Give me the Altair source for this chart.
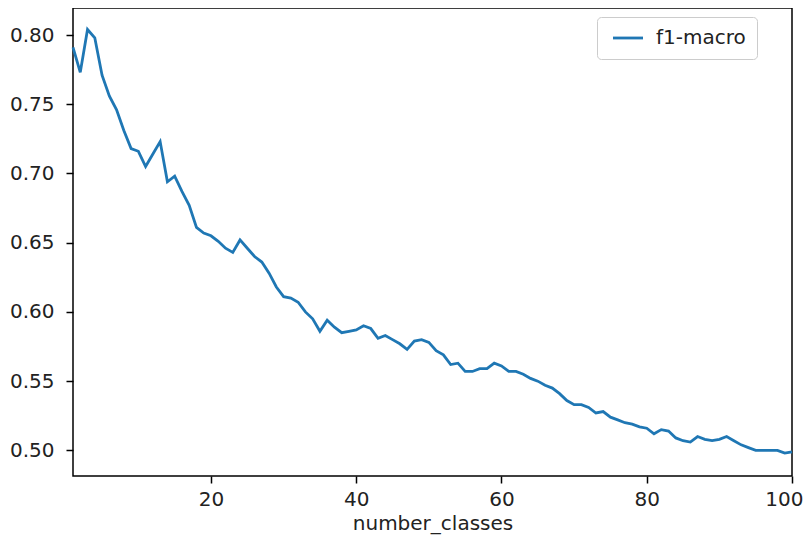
import altair as alt
import pandas as pd

number_classes = list(range(1, 101))
f1_macro = [
    0.791, 0.773, 0.804, 0.798, 0.771, 0.756, 0.746, 0.731, 0.718, 0.716,
    0.705, 0.714, 0.723, 0.694, 0.698, 0.687, 0.677, 0.661, 0.657, 0.655,
    0.651, 0.646, 0.643, 0.652, 0.646, 0.640, 0.636, 0.628, 0.618, 0.611,
    0.610, 0.607, 0.600, 0.595, 0.586, 0.594, 0.589, 0.585, 0.586, 0.587,
    0.590, 0.588, 0.581, 0.583, 0.580, 0.577, 0.573, 0.579, 0.580, 0.578,
    0.572, 0.569, 0.562, 0.563, 0.557, 0.557, 0.559, 0.559, 0.563, 0.561,
    0.557, 0.557, 0.555, 0.552, 0.550, 0.547, 0.545, 0.541, 0.536, 0.533,
    0.533, 0.531, 0.527, 0.528, 0.524, 0.522, 0.520, 0.519, 0.517, 0.516,
    0.512, 0.515, 0.514, 0.509, 0.507, 0.506, 0.510, 0.508, 0.507, 0.508,
    0.510, 0.507, 0.504, 0.502, 0.500, 0.500, 0.500, 0.500, 0.498, 0.499,
]
series_name = "f1-macro"
x_ticks = [20, 40, 60, 80, 100]
y_ticks = [0.50, 0.55, 0.60, 0.65, 0.70, 0.75, 0.80]

df = pd.DataFrame({
    "number_classes": number_classes,
    "value": f1_macro,
    "series": [series_name] * len(number_classes),
})

FONT = "DejaVu Sans"
TEXT = "#222222"

chart = alt.Chart(df).mark_line(strokeWidth=2.8).encode(
    x=alt.X(
        "number_classes:Q",
        scale=alt.Scale(domain=[1, 100], nice=False, zero=False),
        axis=alt.Axis(values=x_ticks, title="number_classes", format="d"),
    ),
    y=alt.Y(
        "value:Q",
        scale=alt.Scale(domain=[0.4815, 0.8195], nice=False, zero=False),
        axis=alt.Axis(values=y_ticks, title=None, format=".2f"),
    ),
    color=alt.Color(
        "series:N",
        scale=alt.Scale(range=["#1f77b4"]),
        legend=alt.Legend(
            title=None,
            orient="none",
            legendX=524,
            legendY=9,
            padding=11,
            strokeColor="#cccccc",
            fillColor="rgba(255,255,255,0.8)",
            cornerRadius=4,
            symbolType="M-2,0H2",
            symbolSize=225,
            symbolStrokeWidth=2.8,
            symbolOffset=10,
            labelFontSize=20,
            labelFont=FONT,
            labelColor=TEXT,
            labelOffset=18,
        ),
    ),
).properties(
    width=719,
    height=468,
    autosize=alt.AutoSizeParams(type="none"),
    padding={"left": 65, "top": 0, "right": 11, "bottom": 61},
).configure_view(
    stroke="black",
    strokeWidth=1.5,
).configure_axis(
    domain=False,
    grid=False,
    ticks=True,
    tickColor="black",
    tickWidth=1.5,
    tickSize=7,
    labelFont=FONT,
    labelFontSize=20,
    labelColor=TEXT,
    titleFont=FONT,
    titleFontSize=20,
    titleFontWeight="normal",
    titleColor=TEXT,
).configure_axisY(
    labelPadding=12,
).configure_axisX(
    labelPadding=6,
    titlePadding=4,
    labelFlush=True,
    labelFlushOffset=11,
)

chart.save("out.html", embed_options={"renderer": "svg", "actions": False})
